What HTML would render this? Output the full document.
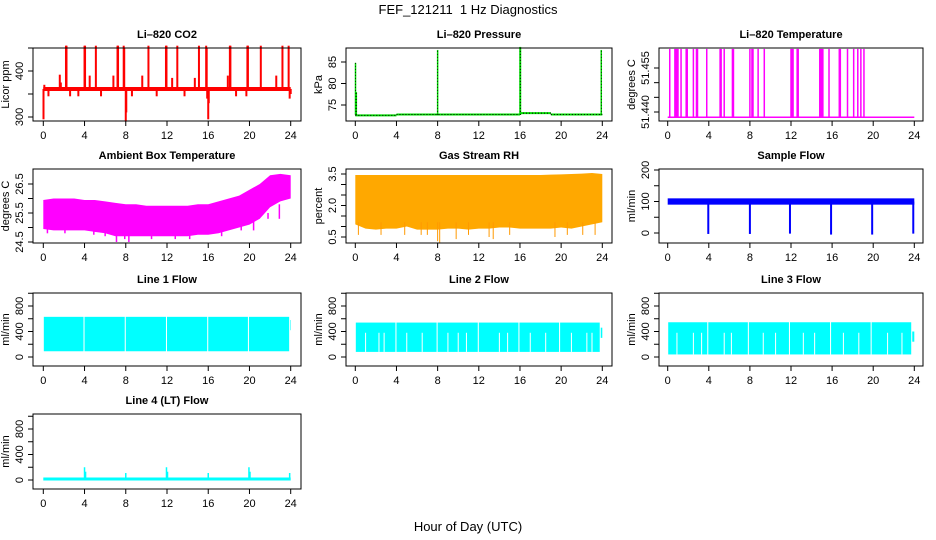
<!DOCTYPE html>
<html><head><meta charset="utf-8"><style>
html,body{margin:0;padding:0;background:#fff;}
svg{display:block;font-family:"Liberation Sans",Arial,sans-serif;}
</style></head><body>
<svg id="chart" width="936" height="540" viewBox="0 0 936 540">
<text x="468" y="14" text-anchor="middle" font-size="13">FEF_121211&#160; 1 Hz Diagnostics</text>
<text x="468" y="531" text-anchor="middle" font-size="13">Hour of Day (UTC)</text>
</svg>
<script>
// ---- data ----
const xTicks = [0,4,8,12,16,20,24];
const co2Base = 361;
const co2SpikeHours = [0.02,0.1,2.2,2.25,4.0,4.05,5.1,7.2,7.25,7.8,7.85,10.2,11.9,11.95,13.0,15.1,15.8,15.85,18.1,18.15,19.8,19.85,21.1,23.2,23.8,1.6,1.7,4.5,6.8,9.6,12.5,14.7,17.9,22.6,8.0,8.05,16.0,16.05,23.9,24.0,0.5,2.6,3.4,5.6,8.6,11.0,13.7,15.9,18.7,19.7];
const co2SpikeValues = [295,370,455,455,455,455,455,455,455,455,450,455,455,455,455,455,455,450,455,455,455,455,455,455,455,392,375,390,390,390,385,385,390,390,290,310,295,330,340,350,345,345,345,345,345,345,345,340,345,345];
const presSegStart = [0,4,16,19];
const presSegEnd = [4,16,19,24];
const presSegVal = [72.6,72.8,73.1,72.8];
const presSpikeHours = [0.02,0.1,8.0,16.0,16.05,23.9];
const presSpikeValues = [84.8,78,87.8,88.5,88.5,87.8];
const tempBase = 51.4382;
const tempSpikeHours = [0.2,0.7,0.8,0.9,1.0,1.3,1.8,1.9,2.5,2.8,2.9,3.8,5.1,5.2,5.5,6.3,6.4,8.0,8.2,8.3,8.8,9.4,12.0,12.1,12.2,12.6,12.7,14.8,14.9,15.0,15.1,15.7,16.7,16.8,17.5,18.1,18.5,18.8,19.1];
const tempSpikeValue = 51.4615;
const ambHours = [0,1,2,3,4,5,6,7,8,9,10,11,12,13,14,15,16,17,18,19,20,21,22,23,24];
const ambUpper = [25.95,26.0,26.0,26.0,25.95,25.95,25.9,25.85,25.8,25.8,25.75,25.75,25.75,25.75,25.75,25.8,25.8,25.9,26.0,26.1,26.3,26.5,26.8,26.85,26.8];
const ambLower = [24.95,24.9,24.9,24.9,24.9,24.85,24.8,24.7,24.7,24.7,24.7,24.7,24.7,24.7,24.7,24.75,24.75,24.8,24.9,25.0,25.1,25.3,25.7,25.9,26.0];
const ambDipHours = [0.4,2.1,4.9,6.0,7.1,7.9,8.3,10.5,12.8,14.2,17.3,19.2,20.4,21.3,21.8,22.9];
const ambDipValues = [24.8,24.8,24.75,24.7,24.5,24.6,24.5,24.6,24.6,24.6,24.7,24.9,24.9,25.3,25.5,25.8];
const rhUpper = [3.45,3.45,3.45,3.45,3.45,3.45,3.45,3.45,3.45,3.45,3.45,3.45,3.45,3.45,3.45,3.45,3.45,3.45,3.45,3.47,3.48,3.5,3.52,3.55,3.5];
const rhLower = [1.1,0.9,0.85,0.9,0.9,1.0,0.85,0.85,0.85,0.9,0.9,0.85,0.9,0.9,0.95,0.95,0.9,0.9,0.9,0.9,0.95,0.9,1.0,1.1,1.2];
const rhDipHours = [0.3,2.5,4.8,6.4,7.0,8.0,8.2,9.8,11.0,13.0,13.4,15.0,19.4,20.6,22.1,23.3];
const rhDipValues = [0.6,0.6,0.6,0.6,0.6,0.3,0.2,0.4,0.6,0.5,0.4,0.6,0.5,0.6,0.6,0.6];
const sampLow = 90, sampHigh = 110;
const sampDipHours = [3.95,8.0,11.9,15.9,19.9,23.9];
const sampDipValues = [-3,-3,-2,-5,-5,-2];
const line1Gaps = [3.9,7.9,11.9,15.9,19.85,23.85];
const line1Top = 630, line1Bottom = 90, line1Tail = 500;
const line2Gaps = [3.9,7.9,11.9,15.85,19.8,23.75];
const line2Top = 540, line2Bottom = 80, line2Tail = 380;
const line2Whites = [1.0,2.3,2.8,5.0,6.5,9.0,10.0,10.8,14.0,14.8,17.0,18.5,21.0,22.5,23.0];
const line3Gaps = [3.85,7.8,11.8,15.8,19.75,23.7];
const line3Top = 545, line3Bottom = 40, line3Tail = 320;
const line3Whites = [0.9,2.5,3.3,5.5,6.2,9.3,10.5,13.2,14.3,17.1,18.6,21.4,22.8];
const line4Base = 15;
const line4SpikeHours = [4.0,4.1,8.0,11.95,12.05,16.0,19.95,20.05,23.9];
const line4SpikeValues = [200,130,110,200,130,110,200,130,110];

// ---- layout ----
const NS = "http://www.w3.org/2000/svg";
const svg = document.getElementById('chart');
function el(tag, attrs, parent){ const e=document.createElementNS(NS,tag); for(const k in attrs) e.setAttribute(k,attrs[k]); (parent||svg).appendChild(e); return e; }
const cols = [{x0:33,x1:301,h0:43.3,h24:290.7},{x0:346,x1:612,h0:355.3,h24:602.3},{x0:659,x1:923,h0:667.7,h24:914.3}];
const rows = [{y0:48,y1:121},{y0:169,y1:243},{y0:293,y1:366},{y0:414,y1:489}];

function makePanel(name,title,ytitle,c,r,v1,p1,v2,p2,ticks,labels){
  const col=cols[c], row=rows[r];
  const g=el('g',{});
  
  
  const X=h=>col.h0+(h/24)*(col.h24-col.h0);
  const Y=v=>p1+(v-v1)*(p2-p1)/(v2-v1);
  const plot=el('g',{},g);
  
  
  const t=el('text',{x:(col.x0+col.x1)/2,y:row.y0-10,'text-anchor':'middle','font-size':'11','font-weight':'bold'},g);
  t.textContent=title;
  
  
  const xa=el('g',{},g);
  
  
  el('line',{x1:X(0),x2:X(24),y1:row.y1,y2:row.y1,stroke:'#000'},xa);
  xTicks.forEach(h=>{
    el('line',{x1:X(h),x2:X(h),y1:row.y1,y2:row.y1+5,stroke:'#000'},xa);
    const tl=el('text',{x:X(h),y:row.y1+18,'text-anchor':'middle','font-size':'11'},xa);
    tl.textContent=h;
  });
  const ya=el('g',{},g);
  
  
  el('line',{x1:col.x0,x2:col.x0,y1:Y(ticks[0]),y2:Y(ticks[ticks.length-1]),stroke:'#000'},ya);
  ticks.forEach((v,i)=>{
    const y=Y(v);
    el('line',{x1:col.x0-5,x2:col.x0,y1:y,y2:y,stroke:'#000'},ya);
    if(labels[i]){
      const tl=el('text',{x:0,y:0,'text-anchor':'middle','font-size':'11',transform:`translate(${col.x0-10},${y}) rotate(-90)`},ya);
      tl.textContent=labels[i];
    }
  });
  const yt=el('text',{x:0,y:0,'text-anchor':'middle','font-size':'11',transform:`translate(${col.x0-24},${(row.y0+row.y1)/2}) rotate(-90)`},g);
  yt.textContent=ytitle;
  
  
  el('rect',{x:col.x0,y:row.y0,width:col.x1-col.x0,height:row.y1-row.y0,fill:'none',stroke:'#000'},g);
  return {plot,X,Y};
}
function vline(p,x,ya,yb,color,w){ return el('line',{x1:x,x2:x,y1:ya,y2:yb,stroke:color,'stroke-width':w||1.5},p); }
function band(p,X,Y,hours,up,lo,fill){
  let pts=hours.map((h,i)=>X(h)+','+Y(up[i]));
  for(let i=hours.length-1;i>=0;i--) pts.push(X(hours[i])+','+Y(lo[i]));
  return el('polygon',{points:pts.join(' '),fill:fill},p);
}

// CO2
{const P=makePanel('co2','Li\u2013820 CO2','Licor ppm',0,0,300,117,400,71,[300,350,400,450],['300','','400','']);
 el('line',{x1:P.X(0),x2:P.X(24),y1:P.Y(co2Base),y2:P.Y(co2Base),stroke:'#ff0000','stroke-width':4},P.plot);
 co2SpikeHours.forEach((h,i)=>vline(P.plot,P.X(h),P.Y(co2Base),P.Y(co2SpikeValues[i]),'#ff0000',2));}
// Pressure
{const P=makePanel('pressure','Li\u2013820 Pressure','kPa',1,0,75,105,85,62,[75,80,85],['75','80','85']);
 presSegStart.forEach((s,i)=>{el('line',{x1:P.X(s),x2:P.X(presSegEnd[i]),y1:P.Y(presSegVal[i]),y2:P.Y(presSegVal[i]),stroke:'#00dd00','stroke-width':2},P.plot);
  el('line',{x1:P.X(s),x2:P.X(presSegEnd[i]),y1:P.Y(presSegVal[i]),y2:P.Y(presSegVal[i]),stroke:'#000','stroke-width':1,'stroke-dasharray':'1,2'},P.plot);});
 presSpikeHours.forEach((h,i)=>{vline(P.plot,P.X(h),P.Y(72.7),P.Y(presSpikeValues[i]),'#00dd00',1.5);
  el('line',{x1:P.X(h),x2:P.X(h),y1:P.Y(72.7),y2:P.Y(presSpikeValues[i]),stroke:'#000','stroke-width':0.8,'stroke-dasharray':'1,2'},P.plot);});}
// Li-820 Temp
{const P=makePanel('li820-temperature','Li\u2013820 Temperature','degrees C',2,0,51.440,112,51.455,68,[51.440,51.445,51.450,51.455],['51.440','','','51.455']);
 el('line',{x1:P.X(0),x2:P.X(24),y1:P.Y(tempBase),y2:P.Y(tempBase),stroke:'#ff00ff','stroke-width':1.5},P.plot);
 tempSpikeHours.forEach(h=>vline(P.plot,P.X(h),P.Y(tempBase),P.Y(tempSpikeValue),'#ff00ff',1.5));}
// Ambient
{const P=makePanel('ambient-temperature','Ambient Box Temperature','degrees C',0,1,24.5,242,26.5,184,[24.5,25,25.5,26,26.5],['24.5','','25.5','','26.5']);
 band(P.plot,P.X,P.Y,ambHours,ambUpper,ambLower,'#ff00ff');
 ambDipHours.forEach((h,i)=>vline(P.plot,P.X(h),P.Y(25.3),P.Y(ambDipValues[i]),'#ff00ff',1.5));}
// RH
{const P=makePanel('gas-stream-rh','Gas Stream RH','percent',1,1,0.5,237,3.5,174,[0.5,1,1.5,2,2.5,3,3.5],['0.5','','','2.0','','','3.5']);
 band(P.plot,P.X,P.Y,ambHours,rhUpper,rhLower,'#ffa800');
 rhDipHours.forEach((h,i)=>vline(P.plot,P.X(h),P.Y(1.2),P.Y(rhDipValues[i]),'#ff9900',1));}
// Sample flow
{const P=makePanel('sample-flow','Sample Flow','ml/min',2,1,0,233,200,170,[0,50,100,150,200],['0','','100','','200']);
 el('rect',{x:P.X(0),y:P.Y(sampHigh),width:P.X(24)-P.X(0),height:P.Y(sampLow)-P.Y(sampHigh),fill:'#0000ff'},P.plot);
 sampDipHours.forEach((h,i)=>vline(P.plot,P.X(h),P.Y(100),P.Y(sampDipValues[i]),'#0000ff',2));}
// Line flows
function linePanel(name,title,c,r,gaps,top,bottom,tail,whites){
  const P=makePanel(name,title,'ml/min',c,r,0,rows[r].y1-9,800,rows[r].y1-60,[0,200,400,600,800,1000],['0','','400','','800','']);
  let s=0.05;
  gaps.forEach(gp=>{el('rect',{x:P.X(s),y:P.Y(top),width:P.X(gp)-P.X(s),height:P.Y(bottom)-P.Y(top),fill:'#00ffff'},P.plot); s=gp+0.1;});
  el('rect',{x:P.X(s),y:P.Y(tail+80),width:P.X(24)-P.X(s),height:P.Y(tail-80)-P.Y(tail+80),fill:'#00ffff'},P.plot);
  whites.forEach(h=>vline(P.plot,P.X(h),P.Y(bottom),P.Y(380),'#ffffff',1));
}
linePanel('line-1-flow','Line 1 Flow',0,2,line1Gaps,line1Top,line1Bottom,line1Tail,[]);
linePanel('line-2-flow','Line 2 Flow',1,2,line2Gaps,line2Top,line2Bottom,line2Tail,line2Whites);
linePanel('line-3-flow','Line 3 Flow',2,2,line3Gaps,line3Top,line3Bottom,line3Tail,line3Whites);
{const P=makePanel('line-4-flow','Line 4 (LT) Flow','ml/min',0,3,0,480,800,429,[0,200,400,600,800,1000],['0','','400','','800','']);
 el('line',{x1:P.X(0),x2:P.X(24),y1:P.Y(line4Base),y2:P.Y(line4Base),stroke:'#00ffff','stroke-width':3},P.plot);
 line4SpikeHours.forEach((h,i)=>vline(P.plot,P.X(h),P.Y(line4Base),P.Y(line4SpikeValues[i]),'#00ffff',1.5));}
</script>
</body></html>
